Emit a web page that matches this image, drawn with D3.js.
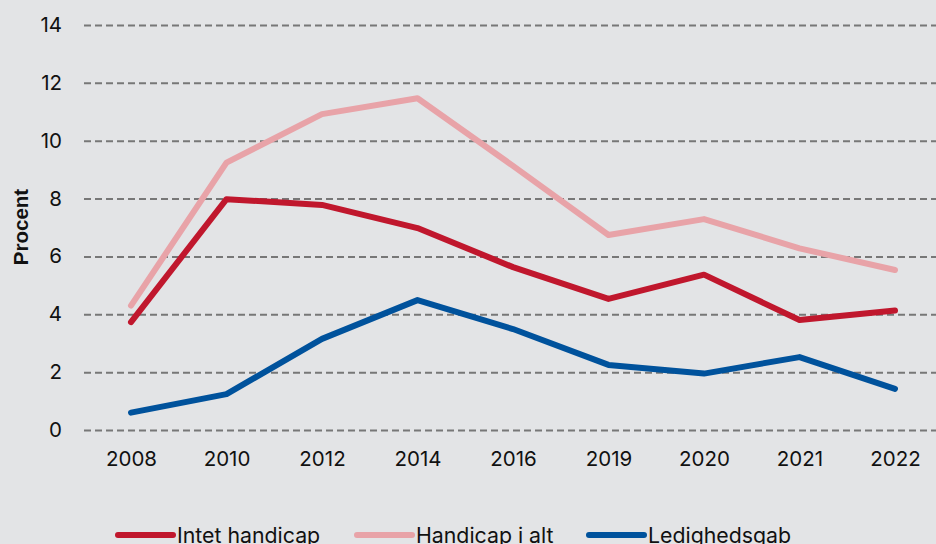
<!DOCTYPE html>
<html><head><meta charset="utf-8">
<script src="https://cdn.jsdelivr.net/npm/d3@7"></script>
<style>html,body{margin:0;padding:0;background:#e3e4e6;}svg{display:block;}</style>
</head><body>
<svg id="c" width="936" height="544"></svg>
<script>
const years = ["2008","2010","2012","2014","2016","2019","2020","2021","2022"];
const intetHandicap = [3.73, 7.98, 7.78, 6.98, 5.63, 4.53, 5.37, 3.80, 4.13];
const handicapIAlt = [4.30, 9.24, 10.92, 11.47, 9.13, 6.74, 7.29, 6.28, 5.53];
const ledighedsgab = [0.60, 1.24, 3.15, 4.49, 3.49, 2.25, 1.95, 2.52, 1.42];
const yTicks = [0, 2, 4, 6, 8, 10, 12, 14];
const seriesNames = ["Intet handicap", "Handicap i alt", "Ledighedsgab"];
const colors = ["#c0172d", "#e8a3a8", "#00529c"];

const svg = d3.select("#c");
svg.append("rect").attr("width",936).attr("height",544).attr("fill","#e3e4e6");

const x = d3.scalePoint().domain(years).range([131, 895]);
const y = d3.scaleLinear().domain([0, 14]).range([430, 25]);

// grid
const gy = svg.append("g").attr("transform","translate(84,0)")
  .call(d3.axisLeft(y).tickValues(yTicks).tickSize(-852).tickPadding(22).tickFormat(d3.format("d")));
gy.select(".domain").remove();
gy.selectAll(".tick line").attr("stroke","#777").attr("stroke-width",2).attr("stroke-dasharray","7,4");
gy.selectAll(".tick text").attr("font-family","Inter, sans-serif").attr("font-size",20.5).attr("fill","#111");

const gx = svg.append("g").attr("transform","translate(0,430)")
  .call(d3.axisBottom(x).tickSize(0).tickPadding(21));
gx.select(".domain").remove();
gx.selectAll(".tick text").attr("font-family","Inter, sans-serif").attr("font-size",20.5).attr("fill","#111");

svg.append("text").attr("transform","translate(28,227) rotate(-90)")
  .attr("text-anchor","middle").attr("font-family","'Liberation Sans', Arial, sans-serif")
  .attr("font-weight","bold").attr("font-size",20.5).attr("fill","#111").text("Procent");

const data = [intetHandicap, handicapIAlt, ledighedsgab];
const line = d3.line().x((d,i)=>x(years[i])).y(d=>y(d));
// draw order: pink first, then red, then blue
[1,0,2].forEach(k=>{
  svg.append("path").datum(data[k]).attr("d",line).attr("fill","none")
    .attr("stroke",colors[k]).attr("stroke-width",6).attr("stroke-linecap","round").attr("stroke-linejoin","round");
});

// legend
const legX = [118, 357, 589];
seriesNames.forEach((n,k)=>{
  svg.append("line").attr("x1",legX[k]).attr("x2",legX[k]+55).attr("y1",535).attr("y2",535)
    .attr("stroke",colors[k]).attr("stroke-width",6).attr("stroke-linecap","round");
  svg.append("text").attr("x",legX[k]+59).attr("y",543).attr("font-family","Inter, sans-serif")
    .attr("font-size",21.3).attr("fill","#111").text(n);
});
</script>
</body></html>
